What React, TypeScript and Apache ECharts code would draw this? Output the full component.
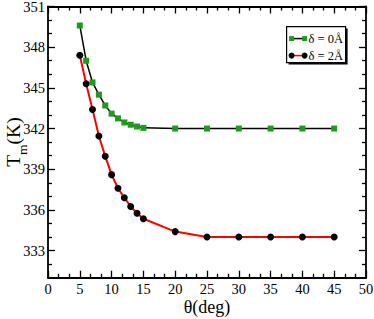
import React, { useEffect, useRef } from 'react';
import * as echarts from 'echarts';

const theta = [5, 6, 7, 8, 9, 10, 11, 12, 13, 14, 15, 20, 25, 30, 35, 40, 45];
const tmDelta0 = [349.6, 347.0, 345.4, 344.5, 343.7, 343.1, 342.75, 342.45, 342.28, 342.15, 342.05, 342, 342, 342, 342, 342, 342];
const tmDelta2 = [347.4, 345.3, 343.4, 341.45, 339.95, 338.6, 337.6, 336.9, 336.25, 335.75, 335.35, 334.4, 334, 334, 334, 334, 334];
const yMajorTicks = [333, 336, 339, 342, 345, 348, 351];
const yMinorTicks = [332, 334, 335, 337, 338, 340, 341, 343, 344, 346, 347, 349, 350];
const seriesNames = ['δ = 0Å', 'δ = 2Å'];

const FONT = '"Liberation Serif", "DejaVu Serif", serif';
const GREEN = '#1f9a1f';

export default function App() {
  const ref = useRef<HTMLDivElement>(null);
  useEffect(() => {
    if (!ref.current) return;
    const chart = echarts.init(ref.current, null, { renderer: 'svg' });
    const axisLine = { show: true, lineStyle: { color: '#000', width: 1.8 } };
    const baseX = {
      type: 'value' as const,
      min: 0,
      max: 50,
      interval: 5,
      splitLine: { show: false },
      axisLine,
      axisTick: { inside: true, length: 7, lineStyle: { color: '#000', width: 1.3 } },
      minorTick: { show: true, splitNumber: 3, length: 4, lineStyle: { color: '#000', width: 1.3 } },
    };
    const baseY = (pos: 'left' | 'right', major: boolean, labels: boolean) => ({
      type: 'value' as const,
      position: pos,
      offset: 0,
      min: 331,
      max: 351,
      splitLine: { show: false },
      axisLine: major ? axisLine : { show: false },
      axisTick: {
        inside: true,
        length: major ? 7 : 4,
        customValues: major ? yMajorTicks : yMinorTicks,
        lineStyle: { color: '#000', width: 1.3 },
      },
      axisLabel: labels
        ? { show: true, customValues: yMajorTicks, color: '#000', fontFamily: FONT, fontSize: 14.5, margin: 3 }
        : { show: false },
      ...(labels
        ? {
            name: '{a|T}{b|m}{a|(K)}',
            nameLocation: 'middle' as const,
            nameGap: 19,
            nameMoveOverlap: false,
            nameTextStyle: {
              rich: {
                a: { fontFamily: FONT, fontSize: 19.5, lineHeight: 14, verticalAlign: 'top', color: '#000' },
                b: { fontFamily: FONT, fontSize: 13.5, lineHeight: 26, verticalAlign: 'bottom', color: '#000' },
              },
            },
          }
        : {}),
    });
    chart.setOption({
      animation: false,
      grid: { left: 48, right: 8, top: 6.5, bottom: 41.3, containLabel: false, outerBoundsMode: 'none' },
      xAxis: [
        {
          ...baseX,
          position: 'bottom',
          axisLabel: { color: '#000', fontFamily: FONT, fontSize: 14.5, margin: 4 },
          name: 'θ(deg)',
          nameLocation: 'middle',
          nameGap: 20,
          nameMoveOverlap: false,
          nameTextStyle: { fontFamily: FONT, fontSize: 18, color: '#000' },
        },
        { ...baseX, position: 'top', axisLabel: { show: false } },
      ],
      yAxis: [
        baseY('left', true, true),
        baseY('left', false, false),
        baseY('right', true, false),
        baseY('right', false, false),
      ],
      series: [
        {
          name: seriesNames[0],
          type: 'line',
          data: theta.map((t, i) => [t, tmDelta0[i]]),
          symbol: 'rect',
          symbolSize: 6,
          itemStyle: { color: GREEN },
          lineStyle: { color: '#000', width: 1.5 },
          z: 3,
        },
        {
          name: seriesNames[1],
          type: 'line',
          data: theta.map((t, i) => [t, tmDelta2[i]]),
          symbol: 'circle',
          symbolSize: 7,
          itemStyle: { color: '#000' },
          lineStyle: { color: '#ff0000', width: 2 },
          z: 4,
        },
      ],
      graphic: [
        {
          type: 'group',
          left: 286,
          top: 26,
          children: [
            { type: 'rect', shape: { x: 2, y: 2, width: 59, height: 36 }, style: { fill: '#000' } },
            { type: 'rect', shape: { x: 0, y: 0, width: 59, height: 36 }, style: { fill: '#fff', stroke: '#000', lineWidth: 1.2 } },
            { type: 'line', shape: { x1: 5, y1: 12, x2: 18, y2: 12 }, style: { stroke: '#000', lineWidth: 1.5 } },
            { type: 'rect', shape: { x: 2.5, y: 9.5, width: 5, height: 5 }, style: { fill: GREEN } },
            { type: 'rect', shape: { x: 15.5, y: 9.5, width: 5, height: 5 }, style: { fill: GREEN } },
            { type: 'text', x: 22, y: 12, style: { text: seriesNames[0], fontFamily: FONT, fontSize: 12.5, fill: '#000', verticalAlign: 'middle' } },
            { type: 'line', shape: { x1: 5, y1: 29, x2: 18, y2: 29 }, style: { stroke: '#ff0000', lineWidth: 1.5 } },
            { type: 'circle', shape: { cx: 5, cy: 29, r: 3 }, style: { fill: '#000' } },
            { type: 'circle', shape: { cx: 18, cy: 29, r: 3 }, style: { fill: '#000' } },
            { type: 'text', x: 22, y: 29, style: { text: seriesNames[1], fontFamily: FONT, fontSize: 12.5, fill: '#000', verticalAlign: 'middle' } },
          ],
        },
      ],
    });
    return () => chart.dispose();
  }, []);
  return <div ref={ref} style={{ width: 374, height: 319, position: 'absolute', left: 0, top: 0, background: '#fff' }} />;
}
